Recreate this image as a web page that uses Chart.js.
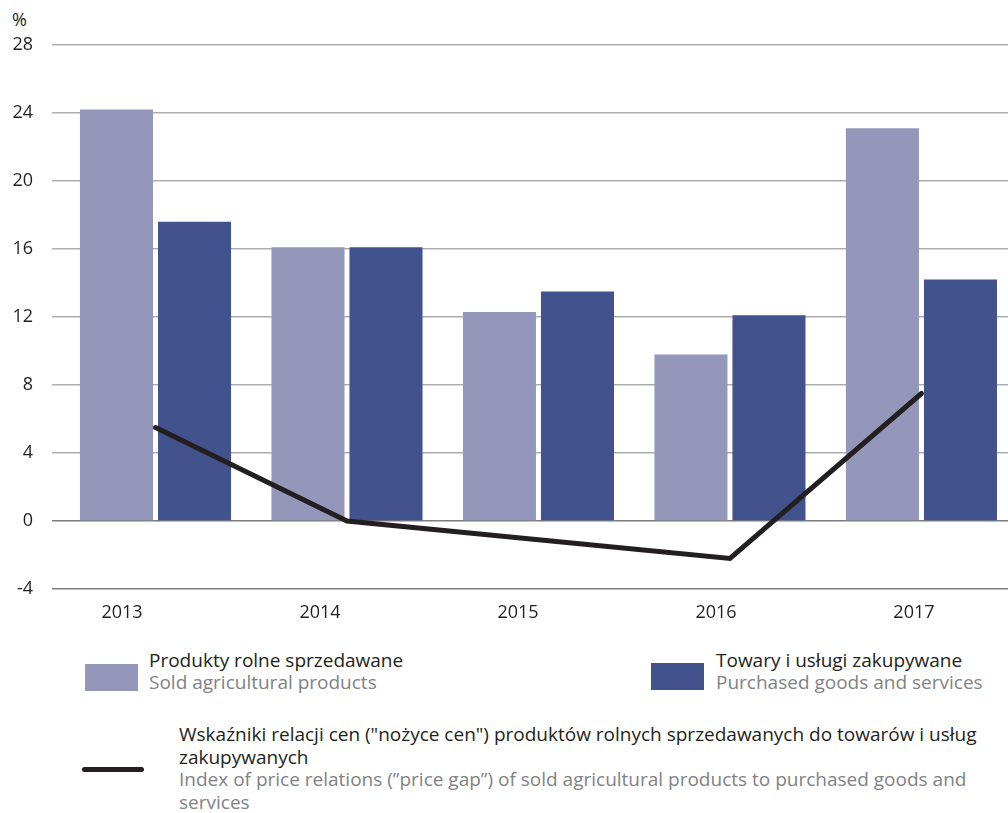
<!DOCTYPE html>
<html>
<head>
<meta charset="utf-8">
<script src="https://cdn.jsdelivr.net/npm/chart.js@4"></script>
<style>
  html, body { margin: 0; padding: 0; background: #fff; overflow: hidden; }
  body { width: 1008px; height: 813px; position: relative; font-family: "Open Sans", sans-serif; color: #231f20; }
  #wrap { position: absolute; left: 0; top: 0; width: 1008px; height: 640px; }
  .unit { position: absolute; left: 12px; top: 7px; font-size: 18px; }
  .sw { position: absolute; width: 53px; height: 27px; }
  .txt { position: absolute; font-size: 19px; line-height: 21.5px; white-space: nowrap; }
  .txt .en { color: #808285; }
  .ln { position: absolute; left: 82px; top: 767px; width: 62px; height: 5px; border-radius: 3px; background: #231f20; }
</style>
</head>
<body>
<div class="unit">%</div>
<div id="wrap"><canvas id="grafico"></canvas></div>

<div class="sw" style="left:85px; top:664px; background:#9497ba;"></div>
<div class="txt" style="left:149px; top:650px;">Produkty rolne sprzedawane<br><span class="en">Sold agricultural products</span></div>

<div class="sw" style="left:651px; top:663px; background:#42528c;"></div>
<div class="txt" style="left:716px; top:650px;">Towary i usługi zakupywane<br><span class="en">Purchased goods and services</span></div>

<div class="ln"></div>
<div class="txt" style="left:179px; top:723px; line-height:22.5px;">Wskaźniki relacji cen ("nożyce cen") produktów rolnych sprzedawanych do towarów i usług<br>zakupywanych<br><span class="en">Index of price relations (”price gap”) of sold agricultural products to purchased goods and<br>services</span></div>

<script>
// DANE
const lata = ["2013", "2014", "2015", "2016", "2017"];
const produktyRolne = [24.2, 16.1, 12.3, 9.8, 23.1];
const towaryUslugi = [17.6, 16.1, 13.5, 12.1, 14.2];
const nozyceCen = [5.5, 0, -1.1, -2.2, 7.5];
const ticksY = [-4, 0, 4, 8, 12, 16, 20, 24, 28];

const punkty = (arr) => arr.map((v, i) => ({ x: i, y: v }));
const ticksLat = (scale) => {
  scale.ticks = lata.map((l, i) => ({ value: i }));
};

const ctx = document.getElementById("grafico");
ctx.width = 1008;
ctx.height = 640;

new Chart(ctx, {
  type: "bar",
  data: {
    datasets: [
      {
        type: "line",
        label: "Wskaźniki relacji cen",
        data: punkty(nozyceCen),
        borderColor: "#231f20",
        borderWidth: 5,
        pointRadius: 0,
        tension: 0,
        borderCapStyle: "round",
        borderJoinStyle: "miter",
        order: 0,
      },
      {
        label: "Produkty rolne sprzedawane",
        data: punkty(produktyRolne),
        backgroundColor: "#9497ba",
        categoryPercentage: 0.815,
        barPercentage: 0.936,
        order: 1,
      },
      {
        label: "Towary i usługi zakupywane",
        data: punkty(towaryUslugi),
        backgroundColor: "#42528c",
        categoryPercentage: 0.815,
        barPercentage: 0.936,
        order: 1,
      },
    ],
  },
  options: {
    responsive: false,
    animation: false,
    layout: { padding: { top: 45, right: 0, left: 0, bottom: 0 } },
    plugins: { legend: { display: false }, tooltip: { enabled: false } },
    scales: {
      // oś danych (bez etykiet)
      x: {
        type: "linear",
        offset: false,
        min: -0.5405,
        max: 4.452,
        display: false,
        afterBuildTicks: ticksLat,
      },
      // oś z etykietami lat
      xLata: {
        type: "linear",
        position: "bottom",
        offset: false,
        min: -0.3535,
        max: 4.475,
        grid: { display: false },
        border: { display: false },
        afterBuildTicks: ticksLat,
        afterFit: (scale) => { scale.height = 51; },
        ticks: {
          callback: (v) => lata[v],
          padding: 5,
          maxRotation: 0,
          color: "#231f20",
          font: { family: "Open Sans", size: 18 },
        },
      },
      y: {
        min: -4,
        max: 28,
        afterBuildTicks: (scale) => {
          scale.ticks = ticksY.map((v) => ({ value: v }));
        },
        afterFit: (scale) => { scale.width = 52; },
        border: { display: false },
        grid: {
          drawTicks: false,
          lineWidth: 1.5,
          color: (c) => (c.tick && c.tick.value <= 0 ? "#7c7d80" : "#abadb0"),
        },
        ticks: {
          padding: 19,
          color: "#231f20",
          font: { family: "Open Sans", size: 18 },
        },
      },
    },
  },
});
</script>
</body>
</html>
